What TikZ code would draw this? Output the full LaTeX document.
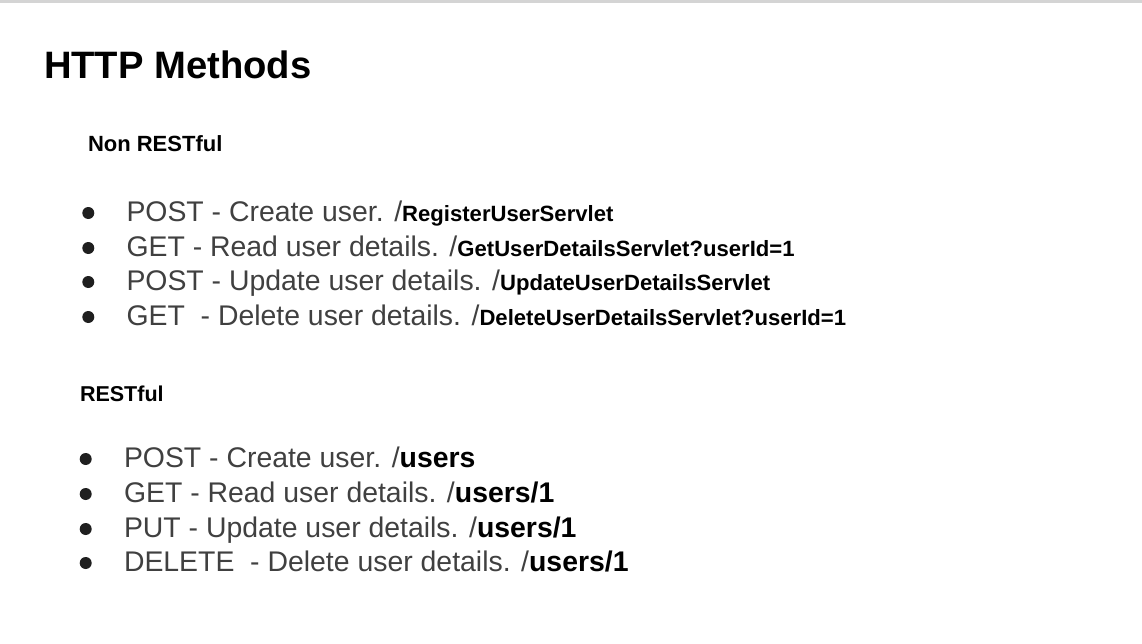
\documentclass[tikz,border=0pt]{standalone}
\usepackage{fontspec}
\setmainfont{Liberation Sans}
\definecolor{bodytext}{HTML}{404040}
\definecolor{topline}{HTML}{D4D4D4}
\begin{document}
\begin{tikzpicture}[x=1pt,y=-1pt,
  txt/.style={anchor=base west,inner sep=0pt,outer sep=0pt},
  itemtxt/.style={txt,text=bodytext,font=\fontsize{28.4}{28.4}\selectfont},
  bul/.style={circle,fill=black!88,inner sep=0pt,minimum size=12pt}]
\useasboundingbox (0,0) rectangle (1142,643);
\fill[white] (0,0) rectangle (1142,643);
\fill[topline] (0,0) rectangle (1142,2.5);
\node[txt,font=\bfseries\fontsize{38.2}{38.2}\selectfont] (title) at (44,78) {HTTP Methods};
\node[txt,font=\bfseries\fontsize{22}{22}\selectfont] (nonrest) at (88,151) {Non RESTful};
% Non RESTful items
\newcommand{\srv}[1]{{\color{black}\bfseries\fontsize{22.1}{22.1}\selectfont #1}}
\newcommand{\rst}[1]{{\color{black}\bfseries #1}}
\node[bul] (b1) at (88.3,213) {};
\node[itemtxt] (n1) at (126.5,221) {POST - Create user. /\srv{RegisterUserServlet}};
\node[bul] (b2) at (88.3,248) {};
\node[itemtxt] (n2) at (126.5,256) {GET - Read user details. /\srv{GetUserDetailsServlet?userId=1}};
\node[bul] (b3) at (88.3,282) {};
\node[itemtxt] (n3) at (126.5,290) {POST - Update user details. /\srv{UpdateUserDetailsServlet}};
\node[bul] (b4) at (88.3,317) {};
\node[itemtxt] (n4) at (126.5,325) {GET~ - Delete user details. /\srv{DeleteUserDetailsServlet?userId=1}};
% RESTful
\node[txt,font=\bfseries\fontsize{21.5}{21.5}\selectfont] (rest) at (80,401) {RESTful};
\node[bul] (c1) at (85.7,459) {};
\node[itemtxt] (r1) at (124,467) {POST - Create user. /\rst{users}};
\node[bul] (c2) at (85.7,494) {};
\node[itemtxt] (r2) at (124,502) {GET - Read user details. /\rst{users/1}};
\node[bul] (c3) at (85.7,529) {};
\node[itemtxt] (r3) at (124,537) {PUT - Update user details. /\rst{users/1}};
\node[bul] (c4) at (85.7,563) {};
\node[itemtxt] (r4) at (124,571) {DELETE~ - Delete user details. /\rst{users/1}};
\end{tikzpicture}
\end{document}
